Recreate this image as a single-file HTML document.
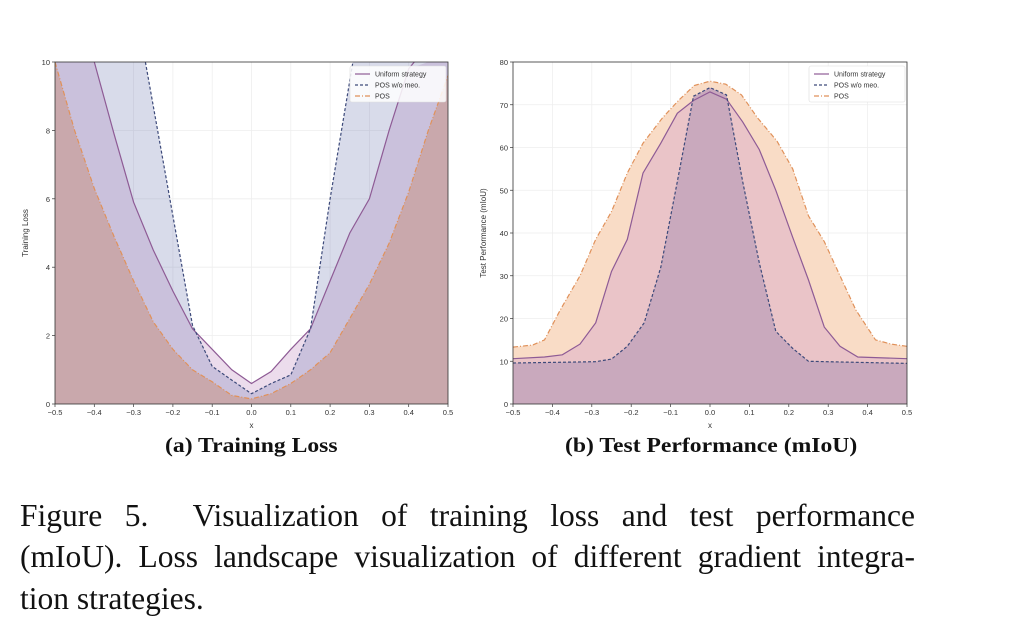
<!DOCTYPE html>
<html><head><meta charset="utf-8"><style>
body{margin:0;background:#fff;width:1024px;height:632px;overflow:hidden;position:relative;font-family:"Liberation Serif",serif}
.ln{position:absolute;left:20px;width:895px;font-size:31.5px;line-height:36px;text-align:justify;text-align-last:justify;color:#111;white-space:nowrap}
.sub{position:absolute;font-weight:bold;font-size:21.5px;top:433px;color:#111;transform-origin:0 0;transform:scaleX(1.1)}
</style></head><body>
<svg id="s" width="1024" height="632" style="position:absolute;left:0;top:0" font-family="Liberation Sans, sans-serif"></svg>
<div class="sub" style="left:165px">(a) Training Loss</div>
<div class="sub" style="left:565px">(b) Test Performance (mIoU)</div>
<div class="ln" style="top:498px">Figure 5.&nbsp; Visualization of training loss and test performance</div>
<div class="ln" style="top:539px">(mIoU). Loss landscape visualization of different gradient integra-</div>
<div class="ln" style="top:581px;text-align-last:left">tion strategies.</div>
<script>
const s=document.getElementById('s');let h='';
function chart(L,R,T,B,ymax,ystep,series,ylab){
 const X=x=>L+(x+0.5)*(R-L),Y=y=>B-Math.min(y,ymax)/ymax*(B-T);
 for(let i=0;i<=10;i++){const x=L+i*(R-L)/10;h+=`<line x1="${x}" y1="${T}" x2="${x}" y2="${B}" stroke="#eee" stroke-width="0.8"/>`;
  h+=`<line x1="${x}" y1="${B}" x2="${x}" y2="${B+3}" stroke="#333" stroke-width="0.7"/><text x="${x}" y="${B+11}" font-size="7.5" text-anchor="middle" fill="#333">${(i/10-0.5).toFixed(1).replace('-','−')}</text>`;}
 for(let v=0;v<=ymax;v+=ystep){const y=Y(v);h+=`<line x1="${L}" y1="${y}" x2="${R}" y2="${y}" stroke="#eee" stroke-width="0.8"/><line x1="${L-3}" y1="${y}" x2="${L}" y2="${y}" stroke="#333" stroke-width="0.7"/><text x="${L-5}" y="${y+3}" font-size="7.5" text-anchor="end" fill="#333">${v}</text>`;}
 h+=`<clipPath id="c${L}"><rect x="${L}" y="${T}" width="${R-L}" height="${B-T}"/></clipPath><g clip-path="url(#c${L})">`;
 for(const sr of series){const pts=sr.d.map(p=>X(p[0]).toFixed(1)+','+Y(p[1]).toFixed(1)).join(' ');
  h+=`<polygon points="${X(sr.d[0][0])},${B} ${pts} ${X(sr.d[sr.d.length-1][0])},${B}" fill="${sr.f}"/>`;}
 for(const sr of series){const pts=sr.d.map(p=>X(p[0]).toFixed(1)+','+(B-p[1]/ymax*(B-T)).toFixed(1)).join(' ');
  h+=`<polyline points="${pts}" fill="none" stroke="${sr.c}" stroke-width="1.2" ${sr.da?`stroke-dasharray="${sr.da}"`:''}/>`;}
 h+=`</g><rect x="${L}" y="${T}" width="${R-L}" height="${B-T}" fill="none" stroke="#333" stroke-width="0.8"/>`;
 h+=`<text x="${(L+R)/2}" y="${B+24}" font-size="8" text-anchor="middle" fill="#333">x</text>`;
 h+=`<text transform="translate(${L-27},${(T+B)/2}) rotate(-90)" font-size="8" text-anchor="middle" fill="#333">${ylab}</text>`;
 const lx=R-98,ly=T+4;
 h+=`<rect x="${lx}" y="${ly}" width="96" height="36" fill="#fff" fill-opacity="0.85" stroke="#ddd" stroke-width="0.6" rx="2"/>`;
 const lg=[['Uniform strategy','#8e5b95',''],['POS w/o meo.','#3d4a7a','3,2'],['POS','#e0915a','5,2,1,2']];
 lg.forEach((g,i)=>{const y=ly+8+i*11;h+=`<line x1="${lx+5}" y1="${y}" x2="${lx+20}" y2="${y}" stroke="${g[1]}" stroke-width="1.2" ${g[2]?`stroke-dasharray="${g[2]}"`:''}/><text x="${lx+25}" y="${y+2.5}" font-size="7" fill="#333">${g[0]}</text>`;});
}
const posL={d:[[-0.5,10],[-0.45,8],[-0.4,6.3],[-0.35,4.9],[-0.3,3.6],[-0.25,2.4],[-0.2,1.6],[-0.15,1.0],[-0.1,0.65],[-0.05,0.25],[0,0.15],[0.05,0.3],[0.1,0.6],[0.15,1.0],[0.2,1.5],[0.25,2.5],[0.3,3.5],[0.35,4.7],[0.4,6.2],[0.45,8],[0.5,9.6]],f:'#c9a8ac',c:'#e0915a',da:'5,2,1,2'};
chart(55,448,62,404,10,2,[
 {d:[[-0.5,14],[-0.4,10],[-0.35,7.9],[-0.3,5.9],[-0.25,4.5],[-0.2,3.3],[-0.15,2.2],[-0.1,1.6],[-0.05,1.0],[0,0.6],[0.05,0.95],[0.1,1.6],[0.15,2.2],[0.2,3.6],[0.25,5],[0.3,6],[0.35,8],[0.4,9.8],[0.45,10.5],[0.5,12]],f:'#ecdcec',c:'#8e5b95'},
 {d:[[-0.5,30],[-0.27,10],[-0.2,5.5],[-0.15,2.3],[-0.1,1.1],[-0.05,0.7],[0,0.3],[0.05,0.6],[0.1,0.85],[0.15,2.2],[0.2,6],[0.258,10],[0.5,30]],f:'rgba(100,110,170,0.25)',c:'#3d4a7a',da:'3,2'},
 posL
],'Training Loss');
chart(513,907,62,404,80,10,[
 {d:[[-0.5,13.3],[-0.45,13.8],[-0.42,15],[-0.38,22],[-0.33,30],[-0.29,38.5],[-0.25,45],[-0.21,54],[-0.17,61],[-0.12,67],[-0.08,71],[-0.04,74.5],[0,75.5],[0.04,74.8],[0.08,72.3],[0.12,67],[0.17,61.5],[0.21,55],[0.25,44],[0.29,38],[0.33,30],[0.37,22],[0.42,15],[0.46,14],[0.5,13.5]],f:'#f9dcc6',c:'#e0915a',da:'5,2,1,2'},
 {d:[[-0.5,10.6],[-0.42,11],[-0.375,11.5],[-0.33,14],[-0.29,19],[-0.25,31],[-0.21,38.5],[-0.17,54],[-0.125,61],[-0.083,68],[-0.042,71],[0,73],[0.042,71.3],[0.083,66],[0.125,59.5],[0.167,50],[0.21,39],[0.25,29],[0.29,18],[0.33,13.5],[0.375,11],[0.5,10.6]],f:'#eac4c8',c:'#8e5b95'},
 {d:[[-0.5,9.6],[-0.29,9.9],[-0.25,10.5],[-0.21,13.5],[-0.167,19],[-0.125,32],[-0.083,52],[-0.042,72],[0,74],[0.042,72.3],[0.083,52],[0.125,33],[0.167,17],[0.21,13],[0.25,10],[0.5,9.5]],f:'#c9a9bd',c:'#3d4a7a',da:'3,2'}
],'Test Performance (mIoU)');
s.innerHTML=h;
</script>
</body></html>
